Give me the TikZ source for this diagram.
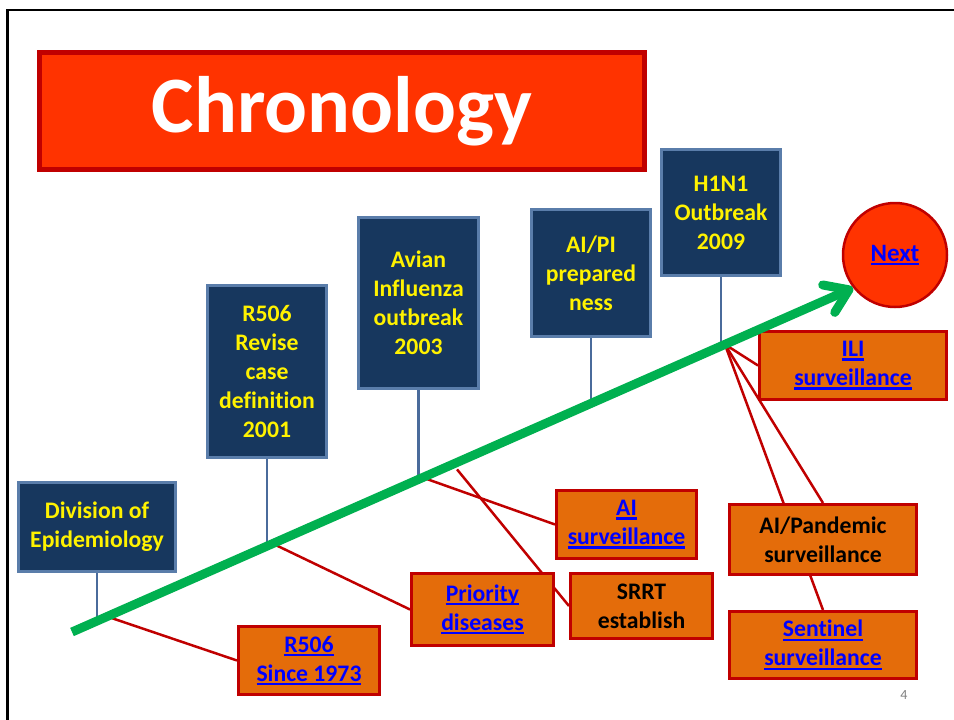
\documentclass[tikz,border=0pt]{standalone}
\usepackage{fontspec}
\setmainfont{Carlito}[Ligatures=NoCommon]
\usetikzlibrary{arrows.meta,backgrounds}

\definecolor{navy}{HTML}{17375E}
\definecolor{navyline}{HTML}{5A7DAA}
\definecolor{stemblue}{HTML}{4A6B9B}
\definecolor{boxorange}{HTML}{E46C0A}
\definecolor{darkred}{HTML}{C00000}
\definecolor{titlered}{HTML}{FF3300}
\definecolor{tlgreen}{HTML}{00B050}
\definecolor{lnkblue}{HTML}{0000FF}

\newcommand\boxfont{\fontsize{23.7}{29}\selectfont\bfseries}
\newcommand\lnk[1]{{\color{lnkblue}\setbox0\hbox{#1}\rlap{\rule[-4pt]{\wd0}{2.3pt}}\box0}}

\tikzset{
  event/.style={draw=navyline, line width=2.5pt, fill=navy, text=yellow,
    font=\boxfont, align=center, inner sep=0pt},
  topic/.style={draw=darkred, line width=3pt, fill=boxorange, text=black,
    font=\boxfont, align=center, inner sep=0pt},
  stem/.style={draw=stemblue, line width=2.5pt},
  link/.style={draw=darkred, line width=2.5pt},
  timeline/.style={draw=tlgreen, line width=9pt,
    -{Straight Barb[length=22pt,width=30pt,round]}},
}

\begin{document}
\begin{tikzpicture}[x=1pt,y=-1pt]
\useasboundingbox (0,0) rectangle (954,720);

% slide frame
\draw[line width=2.5pt] (7.5,720) -- (7.5,10) -- (954,10);

% Define nodes
\path (342,111)
node[draw=darkred, line width=5pt, fill=titlered, text=white,
  minimum width=605pt, minimum height=117pt,
  font=\fontsize{80}{92}\selectfont\bfseries] (title) {Chronology}
(97,527) node[event, minimum width=157pt, minimum height=89pt] (div) {Division of\\Epidemiology}
(267,371.5) node[event, minimum width=119pt, minimum height=172pt] (rev) {R506\\Revise\\case\\definition\\2001}
(418.5,303) node[event, minimum width=120pt, minimum height=171pt] (avian) {Avian\\Influenza\\outbreak\\2003}
(591,273) node[event, minimum width=119pt, minimum height=127pt] (aipi) {AI/PI\\prepared\\ness}
(721,212.5) node[event, minimum width=119pt, minimum height=126pt] (hini) {H1N1\\Outbreak\\2009}
(309,660.5) node[topic, minimum width=141pt, minimum height=68pt] (since) {\lnk{R506}\\\lnk{Since 1973}}
(482.5,609.5) node[topic, minimum width=142pt, minimum height=72pt] (prio) {\lnk{Priority}\\\lnk{diseases}}
(626.5,524.5) node[topic, minimum width=140pt, minimum height=68pt] (aisurv) {\lnk{AI}\\\lnk{surveillance}}
(641.5,606) node[topic, minimum width=142pt, minimum height=65pt] (srrt) {SRRT\\establish}
(823,539.5) node[topic, minimum width=187pt, minimum height=70pt] (aipand) {AI/Pandemic\\surveillance}
(823,645) node[topic, minimum width=187pt, minimum height=67pt] (sentinel) {\lnk{Sentinel}\\\lnk{surveillance}}
(853,365.5) node[topic, minimum width=187pt, minimum height=68pt] (ili) {\lnk{ILI}\\\lnk{surveillance}}
(895,255) node[circle, draw=darkred, line width=2.5pt, fill=titlered,
  minimum size=104pt, inner sep=0pt, font=\fontsize{25}{29}\selectfont\bfseries] (next) {\lnk{Next}}
(904,695) node[text=gray, font=\fontsize{14}{16}\selectfont] (page) {4}
;

% timeline
\path (72,632) coordinate (tl0) (853,288) coordinate (tl1);
\path (tl0) -- (tl1)
coordinate[pos=0.032] (y1973) coordinate[pos=0.045] (r1973)
coordinate[pos=0.25] (y2001) coordinate[pos=0.257] (r2001)
coordinate[pos=0.443] (y2003) coordinate[pos=0.449] (r2003)
coordinate[pos=0.493, yshift=-7pt] (rsrrt)
coordinate[pos=0.664] (yaipi)
coordinate[pos=0.831] (y2009) coordinate[pos=0.836] (r2009);

\begin{scope}[on background layer]
% stems
\draw[stem] (div.south) -- (div.south |- y1973);
\draw[stem] (rev.south) -- (rev.south |- y2001);
\draw[stem] (avian.south) -- (avian.south |- y2003);
\draw[stem] (aipi.south) -- (aipi.south |- yaipi);
\draw[stem] (hini.south) -- (hini.south |- y2009);
% links
\draw[link] (r1973) -- (since.west);
\draw[link] (r2001) -- (prio.west);
\draw[link] (r2003) -- (aisurv.west);
\draw[link] (rsrrt) -- (srrt.west);
\draw[link] (r2009) -- (ili.west);
\draw[link] (r2009) -- (aipand.north);
\draw[link] (r2009) -- (sentinel.north);
\end{scope}

\draw[timeline] (tl0) -- (tl1);

\end{tikzpicture}
\end{document}
